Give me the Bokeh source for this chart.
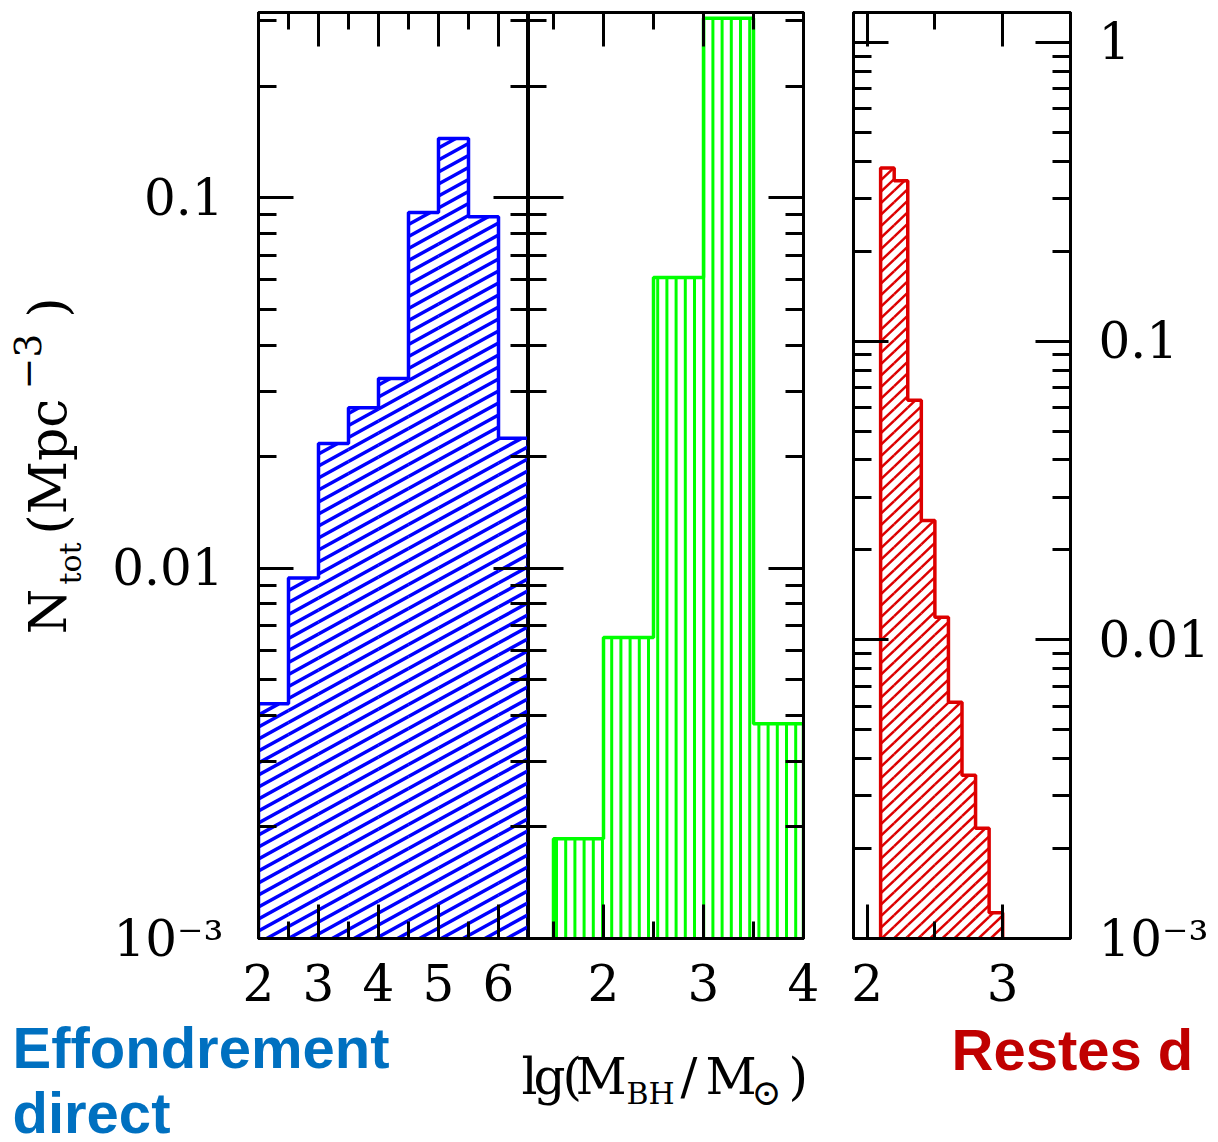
import numpy as np
from bokeh.plotting import figure
from bokeh.models import (Range1d, LinearAxis, LogAxis, SingleIntervalTicker, LogTicker,
                          CustomJSTickFormatter)
from bokeh.layouts import row, column
from bokeh.core.properties import value
from bokeh.embed import file_html
from bokeh.resources import INLINE

# ---------------- data ----------------
blue_edges = [2.0, 2.5, 3.0, 3.5, 4.0, 4.5, 5.0, 5.5, 6.0, 6.5]
blue_values = [0.0043, 0.0094, 0.0217, 0.0271, 0.0325, 0.0912, 0.1445, 0.0889, 0.0224]

green_edges = [1.5, 2.0, 2.5, 3.0, 3.5, 4.0]
green_values = [0.00186, 0.0065, 0.0609, 0.305, 0.0038]

red_edges = [2.1, 2.2, 2.3, 2.4, 2.5, 2.6, 2.7, 2.8, 2.9, 3.0]
red_values = [0.380, 0.344, 0.0634, 0.0251, 0.0119, 0.00618, 0.00352, 0.00234, 0.00122]

y_tick_exponents = [-3, -2, -1, 0]
y_tick_labels = ["10\u207b\u00b3", "0.01", "0.1", "1"]

left_xrange = (2.0, 6.5)
mid_xrange = (1.25, 4.0)
right_xrange = (1.9, 3.5)
yrange_lm = (1e-3, 10 ** -0.5)
yrange_r = (1e-3, 10 ** 0.1)

caption_left = ["Effondrement", "direct"]
caption_right = ["Restes d"]

# ---------------- layout / style ----------------
PAGE_W = 1216
PAGE_H = 1140
FRAME_H = 926
TOP_BORDER = 12
BOTTOM_BORDER = 86
ROW_H = TOP_BORDER + FRAME_H + BOTTOM_BORDER
BOTTOM_H = PAGE_H - ROW_H
YLAB_W = 100
W1, W2, W3 = 270, 275, 217
P1_LEFT = 258 - YLAB_W
P2_RIGHT = 42
P3_LEFT = 8
P3_RIGHT = PAGE_W - (YLAB_W + P1_LEFT + W1 + W2 + P2_RIGHT + P3_LEFT + W3)
MID = 0.38  # distance baseline -> middle of the text box, in em

SERIF = "DejaVu Serif"
SANS = "Liberation Sans"
BLUE = "#0000ff"
GREEN = "#00ff00"
RED = "#dd0000"


def style_axis(ax, ticker, show, standoff=0, formatter=None, major=34, minor=17):
    ax.ticker = ticker
    ax.axis_label = None
    ax.axis_label_standoff = 0
    ax.major_tick_in = major
    ax.major_tick_out = 0
    ax.minor_tick_in = minor
    ax.minor_tick_out = 0
    ax.major_tick_line_width = 3
    ax.minor_tick_line_width = 3
    ax.major_tick_line_color = "black"
    ax.minor_tick_line_color = "black"
    ax.axis_line_width = 3
    ax.axis_line_color = "black"
    if show:
        if formatter is not None:
            ax.formatter = formatter
        ax.major_label_text_font = SERIF
        ax.major_label_text_font_size = "50px"
        ax.major_label_text_color = "black"
        ax.major_label_standoff = standoff
    else:
        ax.formatter = CustomJSTickFormatter(code="return '';")
        ax.major_label_text_font_size = "0px"
        ax.major_label_standoff = 0


def y_formatter():
    return CustomJSTickFormatter(
        args=dict(exps=y_tick_exponents, labels=y_tick_labels),
        code="const e = Math.round(Math.log10(tick)); const i = exps.indexOf(e); return i >= 0 ? labels[i] : '';")


def make_panel(xr, yr, fw, mbl, mbr, left_lab, right_lab):
    p = figure(x_range=Range1d(*xr), y_range=Range1d(*yr), y_axis_type="log",
               frame_width=fw, frame_height=FRAME_H, title=None,
               min_border_left=mbl, min_border_right=mbr,
               min_border_top=TOP_BORDER, min_border_bottom=BOTTOM_BORDER,
               toolbar_location=None, output_backend="svg",
               background_fill_color="white", border_fill_color="white",
               outline_line_color="black", outline_line_width=3)
    p.grid.visible = False
    top = LinearAxis()
    right = LogAxis()
    p.add_layout(top, "above")
    p.add_layout(right, "right")
    style_axis(p.below[0], SingleIntervalTicker(interval=1, num_minor_ticks=2), True, standoff=25)
    style_axis(top, SingleIntervalTicker(interval=1, num_minor_ticks=2), False)
    style_axis(p.left[0], LogTicker(num_minor_ticks=10), left_lab, standoff=35,
               formatter=y_formatter(), major=35, minor=18)
    style_axis(right, LogTicker(num_minor_ticks=10), right_lab, standoff=28,
               formatter=y_formatter(), major=35, minor=18)
    return p


def px_scales(xr, yr, fw):
    return fw / (xr[1] - xr[0]), FRAME_H / (np.log10(yr[1]) - np.log10(yr[0]))


def diagonal_hatch(edges, values, ymin, xr, slope_px, gap_px, px_x, px_dec):
    k = slope_px * px_x / px_dec
    d = gap_px / px_dec
    lo = np.log10(ymin)
    top = np.log10(max(values))
    xa = xr[0]
    x0, y0, x1, y1 = [], [], [], []
    c = lo - k * (edges[-1] - xa)
    while c <= top:
        for a, b, v in zip(edges[:-1], edges[1:], values):
            t = np.log10(v)
            xs = max(a, xa + (lo - c) / k)
            xe = min(b, xa + (t - c) / k)
            if xe > xs:
                x0.append(xs)
                y0.append(10 ** (c + k * (xs - xa)))
                x1.append(xe)
                y1.append(10 ** (c + k * (xe - xa)))
        c += d
    return x0, y0, x1, y1


def vertical_hatch(edges, values, ymin, gap_x, offset):
    x0, y0, x1, y1 = [], [], [], []
    for x in np.arange(edges[0] + offset, edges[-1], gap_x):
        i = min(int(np.searchsorted(edges, x, side="right")) - 1, len(values) - 1)
        x0.append(x); y0.append(ymin); x1.append(x); y1.append(values[i])
    return x0, y0, x1, y1


def step_outline(edges, values, ymin):
    xs, ys = [edges[0]], [ymin]
    for a, b, v in zip(edges[:-1], edges[1:], values):
        xs += [a, b]
        ys += [v, v]
    xs.append(edges[-1])
    ys.append(ymin)
    return xs, ys


class TextCanvas:
    """A blank figure; text positions are given in page pixels."""

    def __init__(self, w, h, y_top, mb_top=0, mb_bottom=0):
        self.h, self.y_top = h, y_top
        p = figure(frame_width=w, frame_height=h, x_range=Range1d(0, w), y_range=Range1d(0, h),
                   min_border=0, min_border_left=0, min_border_right=0,
                   min_border_top=mb_top, min_border_bottom=mb_bottom,
                   title=None, x_axis_location=None, y_axis_location=None,
                   toolbar_location=None, output_backend="svg", outline_line_color=None,
                   background_fill_color="white", border_fill_color="white")
        p.grid.visible = False
        self.p = p

    def put(self, txt, x, y, size, font=SERIF, color="black", angle=0.0, bold=False,
            align="left"):
        # y is the page y of the text's vertical middle
        self.p.text(x=[x], y=[self.y_top + self.h - y], text=[txt], text_font=value(font),
                    text_font_size=value(f"{size}px"), text_color=color,
                    text_font_style="bold" if bold else "normal", angle=angle,
                    text_align=align, text_baseline="middle")

    def put_baseline(self, txt, x, base_y, size, **kw):
        self.put(txt, x, base_y - MID * size, size, **kw)


# ---------------- panels ----------------
p1 = make_panel(left_xrange, yrange_lm, W1, P1_LEFT, 0, True, False)
p2 = make_panel(mid_xrange, yrange_lm, W2, 0, P2_RIGHT, False, False)
p3 = make_panel(right_xrange, yrange_r, W3, P3_LEFT, P3_RIGHT, False, True)

# blue: shallow diagonal hatch
pxx, pxd = px_scales(left_xrange, yrange_lm, W1)
hx0, hy0, hx1, hy1 = diagonal_hatch(blue_edges, blue_values, yrange_lm[0], left_xrange,
                                    0.55, 12.0, pxx, pxd)
p1.segment(hx0, hy0, hx1, hy1, line_color=BLUE, line_width=3.5)
sx, sy = step_outline(blue_edges, blue_values, yrange_lm[0])
p1.line(sx, sy, line_color=BLUE, line_width=3.5)

# green: vertical hatch
gx0, gy0, gx1, gy1 = vertical_hatch(green_edges, green_values, yrange_lm[0], 0.092, 0.03)
p2.segment(gx0, gy0, gx1, gy1, line_color=GREEN, line_width=3)
sx, sy = step_outline(green_edges, green_values, yrange_lm[0])
p2.line(sx, sy, line_color=GREEN, line_width=3.5)

# red: 45-degree hatch
pxx, pxd = px_scales(right_xrange, yrange_r, W3)
rx0, ry0, rx1, ry1 = diagonal_hatch(red_edges, red_values, yrange_r[0], right_xrange,
                                    0.95, 11.5, pxx, pxd)
p3.segment(rx0, ry0, rx1, ry1, line_color=RED, line_width=2.5)
sx, sy = step_outline(red_edges, red_values, yrange_r[0])
p3.line(sx, sy, line_color=RED, line_width=3.5)

# ---------------- y-axis label (rotated, centred pieces) ----------------
ylab = TextCanvas(YLAB_W, FRAME_H, TOP_BORDER, mb_top=TOP_BORDER, mb_bottom=BOTTOM_BORDER)
HALF_PI = np.pi / 2
for txt, X, Y, s in [("N", 47, 611, 52), ("tot", 70, 563, 30), ("(Mpc", 47, 466, 52),
                     ("\u22123", 27, 361, 38), (")", 47, 307, 52)]:
    ylab.put(txt, X, Y, s, angle=HALF_PI, align="center")

# ---------------- bottom strip: x label + captions ----------------
bot = TextCanvas(PAGE_W, BOTTOM_H, ROW_H)
for txt, X, Y, s in [("l", 521, 1095, 50), ("g", 533, 1095, 50), ("(", 562, 1095, 50),
                     ("M", 575, 1095, 50), ("BH", 626, 1104, 30), ("/", 680, 1095, 50),
                     ("M", 705, 1095, 50), ("\u2299", 751, 1106, 36), (")", 788, 1095, 50)]:
    bot.put_baseline(txt, X, Y, s)
bot.put_baseline(caption_left[0], 12, 1069, 58, font=SANS, color="#0070c0", bold=True)
bot.put_baseline(caption_left[1], 12, 1134, 58, font=SANS, color="#0070c0", bold=True)
bot.put_baseline(caption_right[0], 951, 1071, 58, font=SANS, color="#c00000", bold=True)

layout = column(row(ylab.p, p1, p2, p3, spacing=0), bot.p, spacing=0)
open("out.html", "w").write(file_html(layout, INLINE))
